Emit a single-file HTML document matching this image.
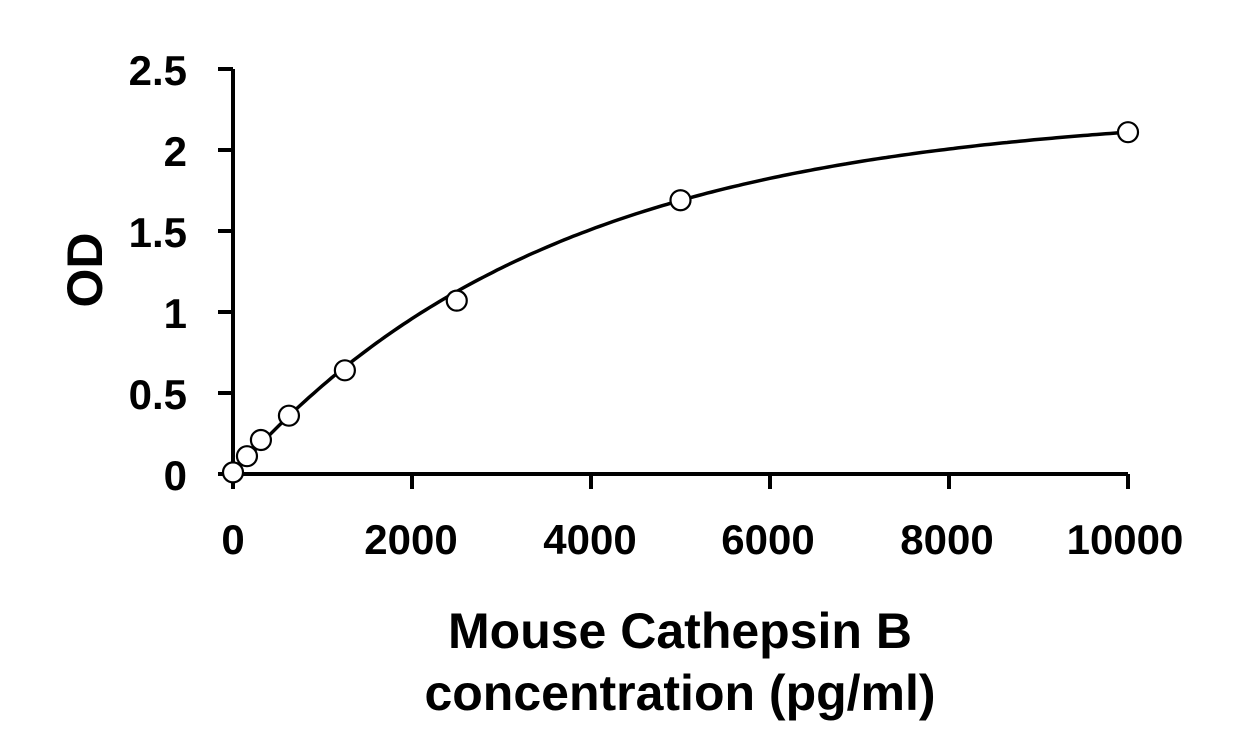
<!DOCTYPE html>
<html><head><meta charset="utf-8"><style>
html,body{margin:0;padding:0;background:#fff;}
svg{display:block;font-family:"Liberation Sans",Arial,sans-serif;font-weight:bold;}
</style></head><body>
<svg id="s" width="1245" height="750" viewBox="0 0 1245 750">
<g stroke="#000" stroke-width="4" fill="none">
<line x1="233" y1="69" x2="233" y2="475"/>
<line x1="231" y1="474" x2="1128" y2="474"/>
<line x1="218" y1="69" x2="233" y2="69"/>
<line x1="218" y1="150" x2="233" y2="150"/>
<line x1="218" y1="231" x2="233" y2="231"/>
<line x1="218" y1="312" x2="233" y2="312"/>
<line x1="218" y1="393" x2="233" y2="393"/>
<line x1="218" y1="474" x2="233" y2="474"/>
<line x1="233" y1="474" x2="233" y2="489"/>
<line x1="412" y1="474" x2="412" y2="489"/>
<line x1="591" y1="474" x2="591" y2="489"/>
<line x1="770" y1="474" x2="770" y2="489"/>
<line x1="949" y1="474" x2="949" y2="489"/>
<line x1="1128" y1="474" x2="1128" y2="489"/>
</g>
<g font-size="42" text-anchor="end">
<text x="187" y="85">2.5</text>
<text x="187" y="166">2</text>
<text x="187" y="247">1.5</text>
<text x="187" y="328">1</text>
<text x="187" y="409">0.5</text>
<text x="187" y="490">0</text>
</g>
<g font-size="42" text-anchor="middle">
<text x="233" y="554">0</text>
<text x="411" y="554">2000</text>
<text x="590" y="554">4000</text>
<text x="768" y="554">6000</text>
<text x="947" y="554">8000</text>
<text x="1125" y="554">10000</text>
<text x="680" y="648" font-size="50">Mouse Cathepsin B</text>
<text x="680" y="710" font-size="50">concentration (pg/ml)</text>
</g>
<text transform="translate(102,270) rotate(-90)" font-size="50" text-anchor="middle">OD</text>
<path id="curve" stroke="#000" stroke-width="3.5" fill="none"/>
<g id="pts" stroke="#000" stroke-width="2.2" fill="#fff"></g>
</svg>
<script>
var X=function(v){return 233+v*0.0895},Y=function(v){return 474-v*162};
var d="";for(var i=0;i<=200;i++){var x=i*50;var y=2.25*(1-Math.exp(-x/3600));d+=(i?"L":"M")+X(x).toFixed(1)+","+Y(y).toFixed(1);}
document.getElementById("curve").setAttribute("d",d);
var p=[[0,0.01],[156,0.11],[312,0.21],[625,0.36],[1250,0.64],[2500,1.07],[5000,1.69],[10000,2.11]];
var g=document.getElementById("pts"),h="";
p.forEach(function(q){h+='<circle cx="'+X(q[0])+'" cy="'+Y(q[1])+'" r="10"/>';});
g.innerHTML=h;
</script>
</body></html>
